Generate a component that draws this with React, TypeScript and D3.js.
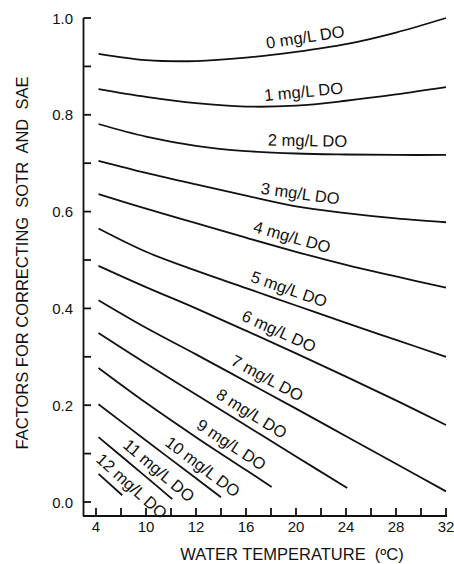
import { useEffect, useRef } from 'react';
import * as d3 from 'd3';

// temperature grid (ºC) shared by most curves
const temps = [4.2, 8, 12, 16, 20, 24, 28, 32];

// correction factor per dissolved oxygen level
const do0 = [0.926, 0.913, 0.911, 0.918, 0.930, 0.946, 0.970, 1.0];
const do1 = [0.853, 0.837, 0.824, 0.817, 0.819, 0.829, 0.842, 0.857];
const do2 = [0.781, 0.755, 0.736, 0.725, 0.720, 0.718, 0.717, 0.717];
const do3 = [0.705, 0.680, 0.656, 0.633, 0.611, 0.597, 0.586, 0.578];
const do4 = [0.636, 0.606, 0.576, 0.546, 0.517, 0.490, 0.466, 0.443];
const do5 = [0.565, 0.517, 0.478, 0.442, 0.406, 0.370, 0.335, 0.300];
const do6 = [0.488, 0.444, 0.400, 0.354, 0.307, 0.259, 0.210, 0.159];
const do7 = [0.417, 0.360, 0.305, 0.249, 0.193, 0.136, 0.079, 0.022];
const do8 = [0.349, 0.286, 0.222, 0.158, 0.094, 0.029];
const do8T = [4.2, 8, 12, 16, 20, 24.1];
const do9 = [0.277, 0.205, 0.134, 0.066, 0.031];
const do9T = [4.2, 8, 12, 16, 18.05];
const do10 = [0.202, 0.127, 0.049, 0.010];
const do10T = [4.2, 8, 12, 14];
const do11 = [0.134, 0.052, 0.006];
const do11T = [4.2, 8, 10.1];
const do12 = [0.058, 0.014];
const do12T = [4.2, 6.1];

const curveLabels = [
  '0 mg/L DO', '1 mg/L DO', '2 mg/L DO', '3 mg/L DO', '4 mg/L DO', '5 mg/L DO', '6 mg/L DO',
  '7 mg/L DO', '8 mg/L DO', '9 mg/L DO', '10 mg/L DO', '11 mg/L DO', '12 mg/L DO',
];
// where along each curve (ºC) its label sits
const labelT = [20.9, 20.7, 20.9, 20.2, 19.4, 19.1, 18.2, 17.2, 15.9, 14.25, 11.9, 8.35, 6.16];

const xTickValues = [4, 8, 12, 16, 20, 24, 28, 32];
const xTickLabels = ['4', '10', '12', '16', '20', '24', '28', '32'];
const yTickValues = [0, 0.2, 0.4, 0.6, 0.8, 1.0];

const width = 454;
const height = 564;
const font = "'Liberation Sans', Arial, sans-serif";

const App = () => {
  const svgRef = useRef<SVGSVGElement>(null);

  useEffect(() => {
    const svg = d3.select(svgRef.current);
    svg.selectAll('*').remove();

    const x = d3.scaleLinear().domain([4, 32]).range([96, 446]);
    const y = d3.scaleLinear().domain([0, 1]).range([502, 18]);

    const series = [
      { t: temps, v: do0 }, { t: temps, v: do1 }, { t: temps, v: do2 }, { t: temps, v: do3 },
      { t: temps, v: do4 }, { t: temps, v: do5 }, { t: temps, v: do6 }, { t: temps, v: do7 },
      { t: do8T, v: do8 }, { t: do9T, v: do9 }, { t: do10T, v: do10 }, { t: do11T, v: do11 },
      { t: do12T, v: do12 },
    ];

    const line = d3.line<[number, number]>()
      .x(d => x(d[0]))
      .y(d => y(d[1]))
      .curve(d3.curveCatmullRom.alpha(0.5));

    const g = svg.append('g');

    series.forEach((s, i) => {
      const pts = s.t.map((t, k) => [t, s.v[k]] as [number, number]);
      g.append('path')
        .attr('d', line(pts))
        .attr('fill', 'none')
        .attr('stroke', '#111')
        .attr('stroke-width', 1.8);

      // label position: linear interpolation (or extrapolation) along the curve
      const lt = labelT[i];
      let k = d3.bisectLeft(s.t, lt) - 1;
      k = Math.max(0, Math.min(s.t.length - 2, k));
      const t0 = s.t[k], t1 = s.t[k + 1];
      const f = (lt - t0) / (t1 - t0);
      const v = s.v[k] + f * (s.v[k + 1] - s.v[k]);
      const dx = x(t1) - x(t0);
      const dy = y(s.v[k + 1]) - y(s.v[k]);
      const ang = Math.atan2(dy, dx);
      const off = 13.5;
      const px = x(lt) + Math.sin(ang) * off;
      const py = y(v) - Math.cos(ang) * off;

      g.append('text')
        .attr('transform', `translate(${px},${py}) rotate(${(ang * 180) / Math.PI})`)
        .attr('text-anchor', 'middle')
        .attr('dominant-baseline', 'central')
        .attr('font-family', font)
        .attr('font-size', '16.5px')
        .attr('fill', '#111')
        .text(curveLabels[i]);
    });

    // axes
    const axis = svg.append('g').attr('stroke', '#111').attr('stroke-width', 1.8);
    axis.append('line')
      .attr('x1', 83.5).attr('x2', 83.5)
      .attr('y1', y(1)).attr('y2', 516);
    axis.append('line')
      .attr('x1', 83).attr('x2', 447)
      .attr('y1', 516).attr('y2', 516);

    d3.range(0, 1.01, 0.1).forEach(v => {
      axis.append('line')
        .attr('x1', 83.5).attr('x2', 91)
        .attr('y1', y(v)).attr('y2', y(v));
    });
    d3.range(4, 33, 2).forEach(t => {
      axis.append('line')
        .attr('x1', x(t)).attr('x2', x(t))
        .attr('y1', 516).attr('y2', 508);
    });

    svg.selectAll('.ytick')
      .data(yTickValues)
      .enter().append('text')
      .attr('x', 73)
      .attr('y', d => y(d))
      .attr('text-anchor', 'end')
      .attr('dominant-baseline', 'central')
      .attr('font-family', font)
      .attr('font-size', '15px')
      .attr('fill', '#111')
      .text(d => d.toFixed(1));

    svg.selectAll('.xtick')
      .data(xTickValues)
      .enter().append('text')
      .attr('x', d => x(d))
      .attr('y', 532)
      .attr('text-anchor', 'middle')
      .attr('font-family', font)
      .attr('font-size', '15px')
      .attr('fill', '#111')
      .text((d, i) => xTickLabels[i]);

    svg.append('text')
      .attr('x', 292)
      .attr('y', 560)
      .attr('text-anchor', 'middle')
      .attr('font-family', font)
      .attr('font-size', '16.5px')
      .attr('fill', '#111')
      .text('WATER TEMPERATURE\u00a0 (ºC)');

    svg.append('text')
      .attr('transform', 'translate(22,263) rotate(-90)')
      .attr('text-anchor', 'middle')
      .attr('dominant-baseline', 'central')
      .attr('font-family', font)
      .attr('font-size', '16.5px')
      .attr('fill', '#111')
      .text('FACTORS FOR CORRECTING\u00a0 SOTR\u00a0 AND\u00a0 SAE');
  }, []);

  return (
    <svg
      ref={svgRef}
      width={width}
      height={height}
      style={{ position: 'absolute', left: 0, top: 0, background: '#fff' }}
    ></svg>
  );
};

export default App;
